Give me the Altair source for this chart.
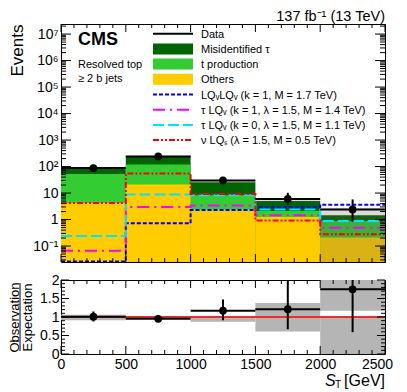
import math
import altair as alt
import pandas as pd

FONT = "Liberation Sans"
W, H1, H2 = 324, 238, 74

# ---------------- data ----------------
bin_lo = [0, 500, 1000, 1500, 2000]
bin_hi = [500, 1000, 1500, 2000, 2500]
bin_mid = [250, 750, 1250, 1750, 2250]

others = [4.3, 21.0, 2.4, 1.24, 0.21]
t_production = [48.4, 98.0, 5.9, 0.85, 0.67]
misid_tau = [34.3, 131.0, 17.2, 2.9, 0.57]

data_obs = [88, 240, 30, 6.0, 2.4]
data_lo = [78.6, 225, 24.5, 3.42, 0.83]
data_hi = [97.4, 256, 35.5, 10.2, 5.75]

unc_lo = [83, 238, 24, 4.4, 0.025]
unc_hi = [92, 262, 27, 5.7, 2.8]

lq_pair = [0.026, 0.72, 2.28, 2.9, 3.6]
tau_lq_k1 = [0.066, 2.95, 3.42, 1.44, 0.49]
tau_lq_k0 = [0.24, 8.9, 8.3, 2.42, 0.88]
nu_lqs = [4.17, 54.5, 9.3, 0.93, 0.28]

ratio = [1.01, 0.95, 1.17, 1.21, 1.75]
ratio_lo = [0.88, 0.89, 0.91, 0.67, 0.59]
ratio_hi = [1.15, 1.01, 1.47, 2.1, 2.2]

band_x = [0, 500, 1000, 1500, 2000, 2000]
band_x2 = [500, 1000, 1500, 2000, 2500, 2500]
band_lo = [0.91, 0.95, 0.87, 0.61, 0.0, 1.17]
band_hi = [1.06, 1.03, 1.03, 1.38, 1.03, 2.0]

x_major = [0, 500, 1000, 1500, 2000, 2500]
x_minor = [v for v in range(100, 2500, 100) if v % 500]
y_log_major = [0.1, 1, 10, 1e2, 1e3, 1e4, 1e5, 1e6, 1e7]
y_log_minor = [m * 10.0 ** k for k in range(-2, 8) for m in range(2, 10)
               if 0.025 < m * 10.0 ** k < 2.4e7]
r_major = [0, 0.5, 1, 1.5, 2]
r_minor = [v / 10 for v in range(1, 20) if v % 5]

YDOM = [0.025, 2.4e7]
xs = alt.Scale(domain=[0, 2500], nice=False, zero=False)
ys = alt.Scale(type="log", domain=YDOM, nice=False)
rs = alt.Scale(domain=[0, 2], nice=False, zero=False)

sup = {0.1: "10⁻¹", 1: "1", 10: "10", 1e2: "10²", 1e3: "10³", 1e4: "10⁴",
       1e5: "10⁵", 1e6: "10⁶", 1e7: "10⁷"}
expr = "''"
for v, s in sup.items():
    expr = f"abs(log(datum.value)/LN10 - ({math.log10(v)})) < 0.01 ? '{s}' : ({expr})"

ax_up_y = alt.Axis(values=y_log_major, labelExpr=expr, title="Events",
                   titleAnchor="end", titleFontSize=17, titleFont=FONT,
                   titleFontWeight="normal", titlePadding=6, titleColor="black",
                   labelFontSize=14, labelFont=FONT, labelPadding=3, labelColor="black",
                   ticks=False, domain=False, grid=False, labelFlush=False)
ax_lo_x = alt.Axis(values=x_major, format="d", labelFontSize=14, labelFont=FONT,
                   labelPadding=3, ticks=False, domain=False, grid=False, title=None,
                   labelFlush=False, labelColor="black",
                   labelOffset=alt.condition("datum.value == 2500", alt.value(-8), alt.value(0)))
ax_lo_y = alt.Axis(values=r_major, format="~g", labelFontSize=14, labelFont=FONT,
                   labelPadding=2, ticks=False, domain=False, grid=False, labelColor="black",
                   title=["Observation", "Expectation"], titleFontSize=13,
                   titleFont=FONT, titleFontWeight="normal", titleLineHeight=13,
                   titlePadding=5, labelFlush=False, titleColor="black")

def UX(f): return alt.X(f, scale=xs, axis=None)
def UY(f): return alt.Y(f, scale=ys, axis=ax_up_y)
def LX(f): return alt.X(f, scale=xs, axis=ax_lo_x)
def LY(f): return alt.Y(f, scale=rs, axis=ax_lo_y)

# ---------------- upper panel ----------------
stack = pd.DataFrame({
    "lo": bin_lo, "hi": bin_hi,
    "others": others,
    "ttop": [o + t for o, t in zip(others, t_production)],
    "total": [o + t + m for o, t, m in zip(others, t_production, misid_tau)],
})

def rect_layer(col, color):
    return alt.Chart(stack).mark_rect(color=color).encode(
        x=UX("lo:Q"), x2="hi:Q", y=UY(f"{col}:Q"), y2=alt.value(H1))

misid_l = rect_layer("total", "#006400")
tprod_l = rect_layer("ttop", "#33cc33")
others_l = rect_layer("others", "#ffcc00")

unc = pd.DataFrame({"lo": bin_lo, "hi": bin_hi, "u1": unc_lo, "u2": unc_hi})
unc_l = alt.Chart(unc).mark_rect(color="#555555", opacity=0.22).encode(
    x=UX("lo:Q"), x2="hi:Q", y=UY("u1:Q"), y2="u2:Q")

sig_specs = [
    (lq_pair, "#0000ff", [4, 2]),
    (tau_lq_k1, "#ff00ff", [12, 5, 2, 5]),
    (tau_lq_k0, "#00e5ff", [11, 4]),
    (nu_lqs, "#ff0000", [6, 2, 2, 2, 2, 2]),
]
sig_layers = []
for vals, col, dash in sig_specs:
    df = pd.DataFrame({"x": bin_lo + [bin_hi[-1]], "y": vals + [vals[-1]]})
    sig_layers.append(alt.Chart(df).mark_line(
        interpolate="step-after", color=col, strokeDash=dash, strokeWidth=2, clip=True
    ).encode(x=UX("x:Q"), y=UY("y:Q")))

obs = pd.DataFrame({"lo": bin_lo, "hi": bin_hi, "mid": bin_mid,
                    "v": data_obs, "elo": data_lo, "ehi": data_hi})
obs_h = alt.Chart(obs).mark_rule(color="black", strokeWidth=2).encode(
    x=UX("lo:Q"), x2="hi:Q", y=UY("v:Q"))
obs_v = alt.Chart(obs).mark_rule(color="black", strokeWidth=2).encode(
    x=UX("mid:Q"), y=UY("elo:Q"), y2="ehi:Q")
obs_p = alt.Chart(obs).mark_point(filled=True, color="black", size=60, opacity=1).encode(
    x=UX("mid:Q"), y=UY("v:Q"))

def xticks(vals, length, h, X):
    df = pd.DataFrame({"x": vals})
    b = alt.Chart(df).mark_rule(color="black", strokeWidth=1).encode(
        x=X("x:Q"), y=alt.value(h), y2=alt.value(h - length))
    t = alt.Chart(df).mark_rule(color="black", strokeWidth=1).encode(
        x=X("x:Q"), y=alt.value(0), y2=alt.value(length))
    return [b, t]

def yticks(vals, length, Y):
    df = pd.DataFrame({"y": vals})
    l = alt.Chart(df).mark_rule(color="black", strokeWidth=1).encode(
        y=Y("y:Q"), x=alt.value(0), x2=alt.value(length))
    r = alt.Chart(df).mark_rule(color="black", strokeWidth=1).encode(
        y=Y("y:Q"), x=alt.value(W), x2=alt.value(W - length))
    return [l, r]

tick_layers_up = (xticks(x_major, 8, H1, UX) + xticks(x_minor, 4, H1, UX)
                  + yticks(y_log_major, 10, UY) + yticks(y_log_minor, 5, UY))

one = pd.DataFrame({"a": [0]})

def txt(s, x, y, size, weight="normal", align="left", style="normal"):
    return alt.Chart(one).mark_text(
        text=s, align=align, baseline="alphabetic", fontSize=size, font=FONT,
        fontWeight=weight, fontStyle=style, color="black"
    ).encode(x=alt.value(x), y=alt.value(y))

ann = [
    txt("137 fb⁻¹ (13 TeV)", W, -3, 14.5, align="right"),
    txt("CMS", 17, 21, 18, weight="bold"),
    txt("Resolved top", 17, 44, 11),
    txt("≥ 2 b jets", 17, 58, 11),
]

# legend
leg_labels = ["Data", "Misidentified τ", "t production", "Others",
              "LQᵥLQᵥ (k = 1, M = 1.7 TeV)",
              "τ LQᵥ (k = 1, λ = 1.5, M = 1.4 TeV)",
              "τ LQᵥ (k = 0, λ = 1.5, M = 1.1 TeV)",
              "ν LQₛ (λ = 1.5, M = 0.5 TeV)"]
leg = []
for i, lab in enumerate(leg_labels):
    yc = 9.7 + 15.2 * i
    if i == 0:
        leg.append(alt.Chart(one).mark_rule(color="black", strokeWidth=2).encode(
            x=alt.value(92), x2=alt.value(132), y=alt.value(yc)))
    elif i <= 3:
        col = ["#006400", "#33cc33", "#ffcc00"][i - 1]
        leg.append(alt.Chart(one).mark_rect(color=col).encode(
            x=alt.value(92), x2=alt.value(132), y=alt.value(yc - 5.5), y2=alt.value(yc + 5.5)))
    else:
        _, col, dash = sig_specs[i - 4]
        leg.append(alt.Chart(one).mark_rule(color=col, strokeWidth=2, strokeDash=dash).encode(
            x=alt.value(92), x2=alt.value(132), y=alt.value(yc)))
    leg.append(txt(lab, 140, yc + 4, 11))

upper = alt.layer(
    misid_l, tprod_l, others_l, unc_l, *sig_layers, obs_h, obs_v, obs_p,
    *tick_layers_up, *ann, *leg
).properties(width=W, height=H1)

# ---------------- lower panel ----------------
band = pd.DataFrame({"x": band_x, "x2": band_x2, "lo": band_lo, "hi": band_hi})
band_l = alt.Chart(band).mark_rect(color="#b5b5b5").encode(
    x=LX("x:Q"), x2="x2:Q", y=LY("lo:Q"), y2="hi:Q")

one_line = alt.Chart(one).mark_rule(color="#ff0000", strokeWidth=1.5).encode(
    y=alt.datum(1, scale=rs, axis=ax_lo_y), x=alt.value(0), x2=alt.value(W))

rat = pd.DataFrame({"lo": bin_lo, "hi": bin_hi, "mid": bin_mid,
                    "v": ratio, "elo": ratio_lo, "ehi": ratio_hi})
rat_h = alt.Chart(rat).mark_rule(color="black", strokeWidth=2).encode(
    x=LX("lo:Q"), x2="hi:Q", y=LY("v:Q"))
rat_v = alt.Chart(rat).mark_rule(color="black", strokeWidth=2, clip=True).encode(
    x=LX("mid:Q"), y=LY("elo:Q"), y2="ehi:Q")
rat_p = alt.Chart(rat).mark_point(filled=True, color="black", size=60, opacity=1).encode(
    x=LX("mid:Q"), y=LY("v:Q"))

tick_layers_lo = (xticks(x_major, 8, H2, LX) + xticks(x_minor, 4, H2, LX)
                  + yticks(r_major, 8, LY) + yticks(r_minor, 4, LY))

frac = alt.Chart(one).mark_rule(color="black", strokeWidth=1).encode(
    x=alt.value(-41), y=alt.value(3), y2=alt.value(71))

xt = [
    txt("[GeV]", W, 106, 16, align="right"),
    txt("T", 274, 108, 10),
    txt("S", 264, 106, 16, style="italic"),
]

lower = alt.layer(
    band_l, one_line, rat_h, rat_v, rat_p, *tick_layers_lo, frac, *xt
).properties(width=W, height=H2)

chart = alt.vconcat(upper, lower, spacing=9).resolve_scale(
    x="independent", y="independent"
).configure(padding=0, font=FONT).configure_view(stroke="black", strokeWidth=1)

chart.save("out.html", embed_options={"renderer": "svg", "actions": False})
